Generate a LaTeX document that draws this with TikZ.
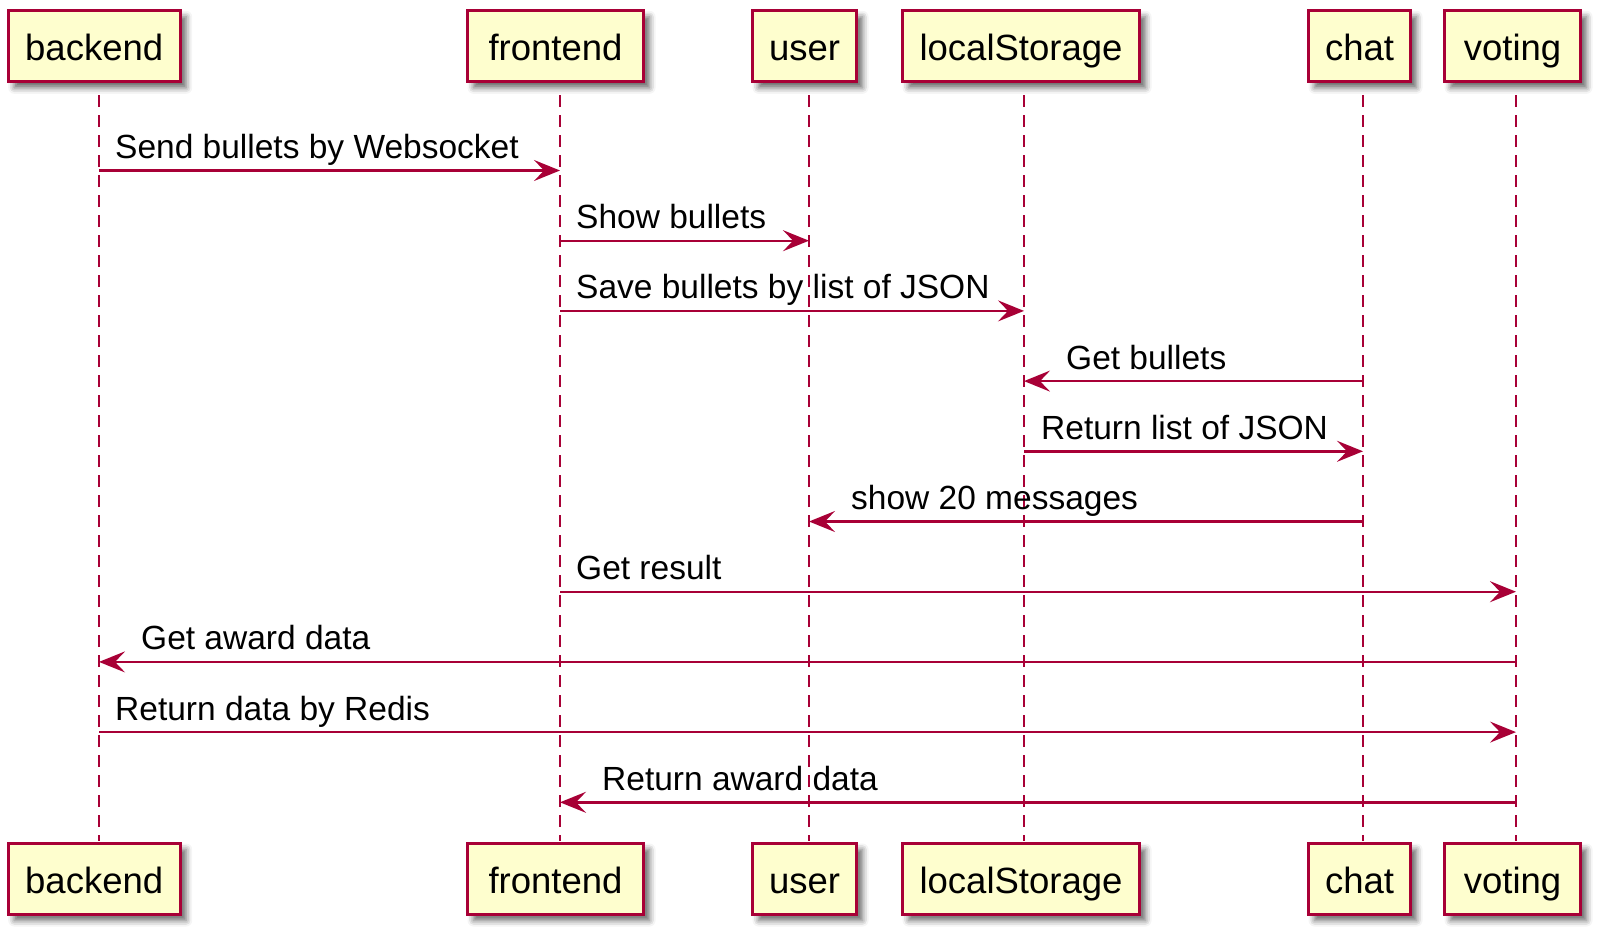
\documentclass[tikz,border=0pt]{standalone}
\usepackage{fontspec}
\setmainfont{Liberation Sans}
\usetikzlibrary{arrows.meta,shadows.blur}
\definecolor{pumlred}{HTML}{A80036}
\definecolor{pumlfill}{HTML}{FEFECE}
\begin{document}
\begin{tikzpicture}[x=1pt,y=-1pt,
 part/.style={draw=pumlred, fill=pumlfill, line width=3pt, inner sep=0pt,
   minimum height=71pt, text height=28pt, text depth=0pt,
   blur shadow={shadow xshift=6pt,shadow yshift=-6pt,shadow blur radius=6pt,shadow opacity=60},
   font=\fontsize{36.5}{40}\selectfont},
 life/.style={draw=pumlred, line width=2.4pt, dash pattern=on 12pt off 8pt},
 msg/.style={draw=pumlred, line width=2.4pt, -{Stealth[length=26pt,width=21pt,inset=10pt]}},
 lbl/.style={anchor=base west, inner sep=0pt, font=\fontsize{33.5}{38}\selectfont}]
\useasboundingbox (0,0) rectangle (1608,940);
% lifeline coordinates
\coordinate (Lb) at (99,95);   \coordinate (Eb) at (99,841);
\coordinate (Lf) at (560,95);  \coordinate (Ef) at (560,841);
\coordinate (Lu) at (809,95);  \coordinate (Eu) at (809,841);
\coordinate (Ll) at (1024,95); \coordinate (El) at (1024,841);
\coordinate (Lc) at (1363,95); \coordinate (Ec) at (1363,841);
\coordinate (Lv) at (1516,95); \coordinate (Ev) at (1516,841);
% lifelines
\foreach \a/\b in {Lb/Eb,Lf/Ef,Lu/Eu,Ll/El,Lc/Ec,Lv/Ev}{\draw[life] (\a) -- (\b);}
% participant boxes (top)
\node[part, minimum width=172pt] (tb) at (94.2,46.3) {backend};
\node[part, minimum width=176pt] (tf) at (555.5,46.3) {frontend};
\node[part, minimum width=104pt] (tu) at (804.5,46.3) {user};
\node[part, minimum width=237pt] (tl) at (1021,46.3) {localStorage};
\node[part, minimum width=102pt] (tc) at (1359.5,46.3) {chat};
\node[part, minimum width=136pt] (tv) at (1512.5,46.3) {voting};
% participant boxes (bottom)
\node[part, minimum width=172pt] (bb) at (94.2,879) {backend};
\node[part, minimum width=176pt] (bf) at (555.5,879) {frontend};
\node[part, minimum width=104pt] (bu) at (804.5,879) {user};
\node[part, minimum width=237pt] (bl) at (1021,879) {localStorage};
\node[part, minimum width=102pt] (bc) at (1359.5,879) {chat};
\node[part, minimum width=136pt] (bv) at (1512.5,879) {voting};
% messages
\draw[msg] (Lb |- 0,170.5) -- (Lf |- 0,170.5);
\node[lbl] (m1) at (115,158.5) {Send bullets by Websocket};
\draw[msg] (Lf |- 0,240.7) -- (Lu |- 0,240.7);
\node[lbl] (m2) at (576,228.7) {Show bullets};
\draw[msg] (Lf |- 0,310.9) -- (Ll |- 0,310.9);
\node[lbl] (m3) at (576,298.9) {Save bullets by list of JSON};
\draw[msg] (Lc |- 0,381.1) -- (Ll |- 0,381.1);
\node[lbl] (m4) at (1066,369.1) {Get bullets};
\draw[msg] (Ll |- 0,451.3) -- (Lc |- 0,451.3);
\node[lbl] (m5) at (1041,439.3) {Return list of JSON};
\draw[msg] (Lc |- 0,521.5) -- (Lu |- 0,521.5);
\node[lbl] (m6) at (851,509.5) {show 20 messages};
\draw[msg] (Lf |- 0,591.7) -- (Lv |- 0,591.7);
\node[lbl] (m7) at (576,579.7) {Get result};
\draw[msg] (Lv |- 0,661.9) -- (Lb |- 0,661.9);
\node[lbl] (m8) at (141,649.9) {Get award data};
\draw[msg] (Lb |- 0,732.1) -- (Lv |- 0,732.1);
\node[lbl] (m9) at (115,720.1) {Return data by Redis};
\draw[msg] (Lv |- 0,802.3) -- (Lf |- 0,802.3);
\node[lbl] (m10) at (602,790.3) {Return award data};
\end{tikzpicture}
\end{document}
